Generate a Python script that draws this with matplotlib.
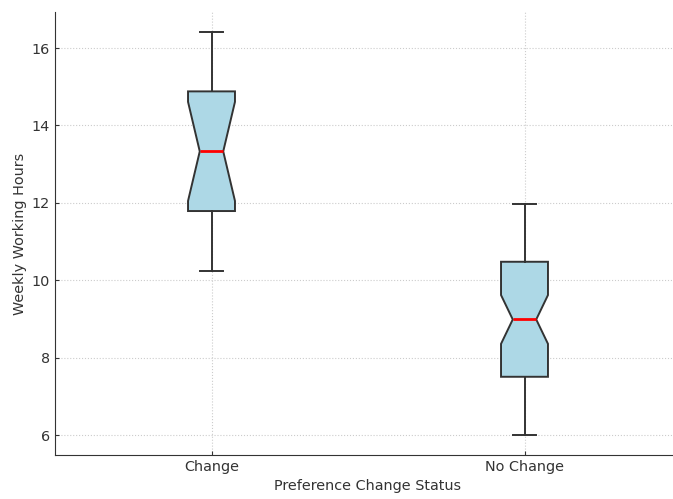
import matplotlib
matplotlib.use("Agg")
import matplotlib.pyplot as plt

categories = ["Change", "No Change"]
whisker_low = [10.23, 6.01]
q1_vals = [11.79, 7.51]
medians = [13.33, 8.99]
q3_vals = [14.88, 10.48]
whisker_high = [16.41, 11.96]
notch_low = [12.05, 8.36]
notch_high = [14.61, 9.62]

stats = []
for i, c in enumerate(categories):
    stats.append(dict(label=c, whislo=whisker_low[i], q1=q1_vals[i], med=medians[i],
                      q3=q3_vals[i], whishi=whisker_high[i], cilo=notch_low[i],
                      cihi=notch_high[i], fliers=[]))

fig = plt.figure(figsize=(6.73, 4.99), dpi=100)
ax = fig.add_axes([55/673, 44/499, 626/673, 443/499])

edge = "#333333"
ax.bxp(stats, shownotches=True, patch_artist=True, showfliers=False,
       boxprops=dict(facecolor="lightblue", edgecolor=edge, linewidth=1.4),
       medianprops=dict(color="red", linewidth=2),
       whiskerprops=dict(color=edge, linewidth=1.4),
       capprops=dict(color=edge, linewidth=1.4))

ax.set_ylim(5.49, 16.93)
ax.set_xlim(0.5, 2.5)
ax.set_yticks([6, 8, 10, 12, 14, 16])
ax.grid(True, linestyle=":", color="#cccccc", linewidth=0.8)
ax.set_axisbelow(True)
for s in ["top", "right"]:
    ax.spines[s].set_visible(False)
for s in ["left", "bottom"]:
    ax.spines[s].set_color(edge)
ax.tick_params(labelsize=10.4, colors="#333333", direction="in", length=3)
ax.set_xlabel("Preference Change Status", fontsize=10.4, color="#333333", labelpad=4)
ax.set_ylabel("Weekly Working Hours", fontsize=10.4, color="#333333", labelpad=3.5)

fig.savefig("out.png", dpi=100)
